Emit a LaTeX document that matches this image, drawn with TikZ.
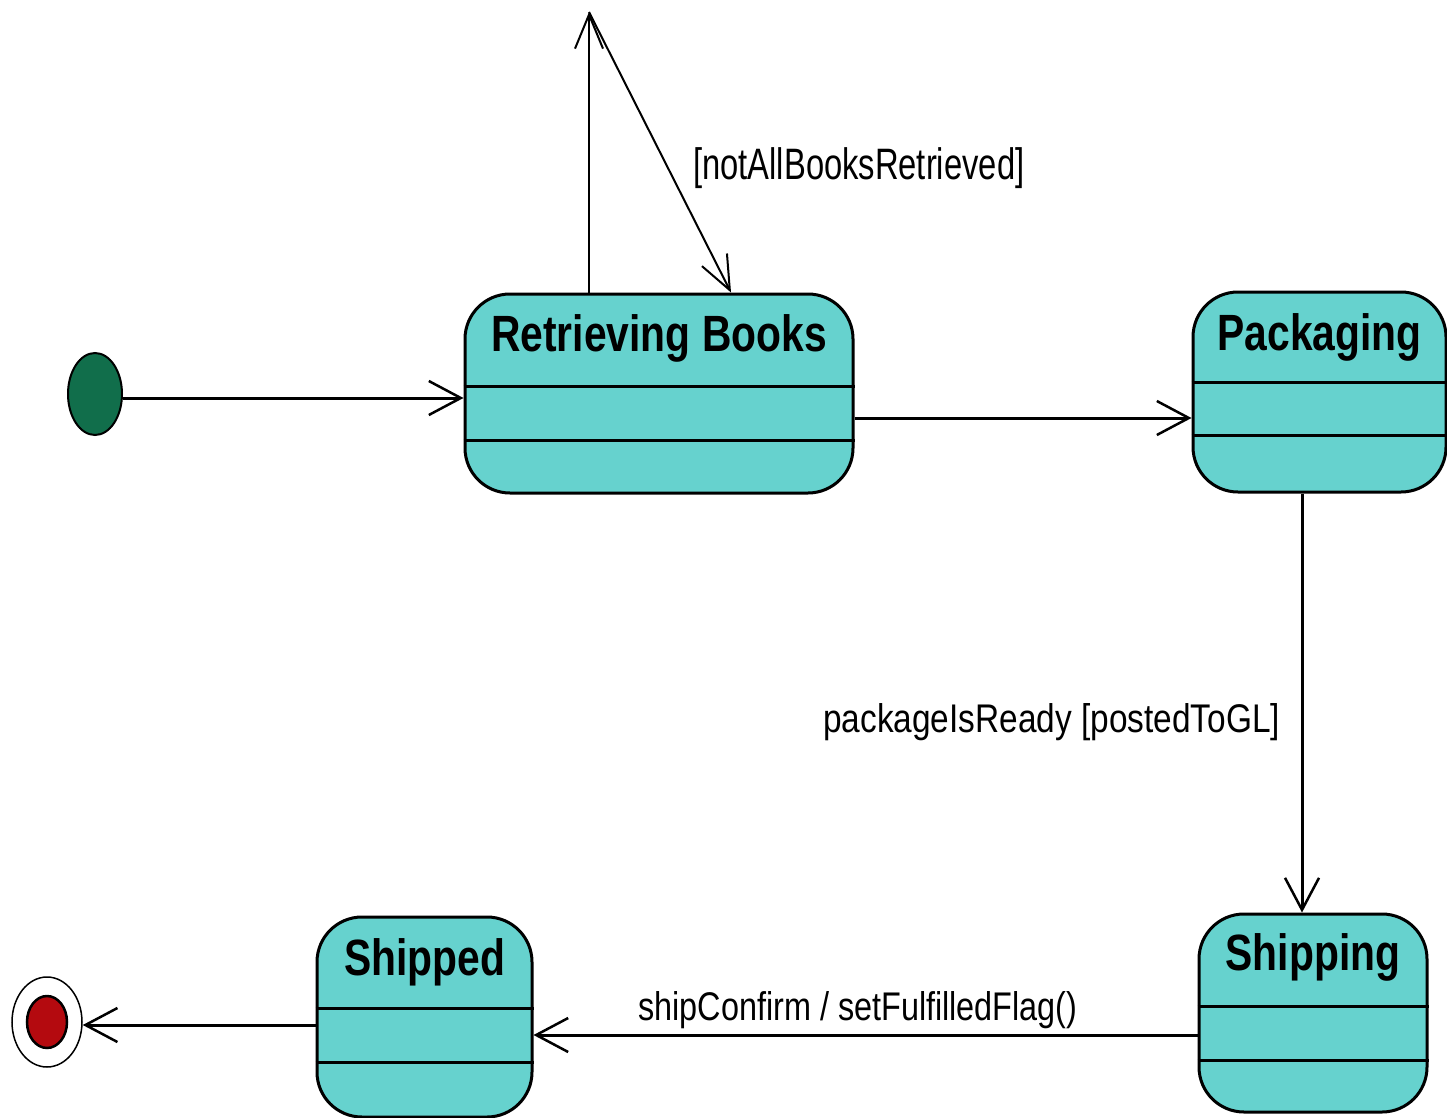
\documentclass[tikz,border=0pt]{standalone}
\usepackage{fontspec}
\setmainfont{Liberation Sans}
\usetikzlibrary{arrows.meta,shapes.geometric,calc}
\definecolor{statefill}{RGB}{102,210,206}
\definecolor{initgreen}{RGB}{17,110,75}
\definecolor{finred}{RGB}{180,10,15}
\begin{document}
\begin{tikzpicture}[x=1pt,y=-1pt,
  statebox/.style={draw,line width=3pt,fill=statefill,rounded corners=45pt,inner sep=0pt},
  divider/.style={line width=3pt},
  title/.style={anchor=base,inner sep=0pt,font=\fontsize{51}{51}\selectfont\bfseries},
  trans/.style={line width=3pt,-{Straight Barb[length=32pt,width=34pt,line width=2.5pt]}},
  loopline/.style={line width=2pt,-{Straight Barb[length=34pt,width=28pt,line width=2pt]}},
  lbl/.style={anchor=base west,inner sep=0pt}]
\fill[white] (0,0) rectangle (1447,1118);
\useasboundingbox (0,0) rectangle (1447,1118);

% states
\node[statebox,minimum width=388pt,minimum height=199pt] (rb) at (659,393.5) {};
\node[statebox,minimum width=253pt,minimum height=200pt] (pk) at (1319.5,392) {};
\node[statebox,minimum width=228pt,minimum height=198pt] (sg) at (1313,1013) {};
\node[statebox,minimum width=215pt,minimum height=200pt] (sd) at (424.5,1017) {};

\foreach \n/\a/\b in {rb/94/148, pk/92/145, sg/94/148, sd/93/147}{
  \draw[divider] ($(\n.north west)+(0,\a)$) -- ($(\n.north east)+(0,\a)$);
  \draw[divider] ($(\n.north west)+(0,\b)$) -- ($(\n.north east)+(0,\b)$);
}

\node[title] (rbt) at ($(rb.north)+(0,59)$) {\scalebox{0.80}[1]{Retrieving Books}};
\node[title] (pkt) at ($(pk.north)+(0,60)$) {\scalebox{0.80}[1]{Packaging}};
\node[title] (sgt) at ($(sg.north)+(0,58)$) {\scalebox{0.80}[1]{Shipping}};
\node[title] (sdt) at ($(sd.north)+(0,60)$) {\scalebox{0.80}[1]{Shipped}};

% initial and final states
\node[ellipse,draw,line width=2pt,fill=initgreen,minimum width=54pt,minimum height=82pt,inner sep=0pt] (init) at (95,394) {};
\node[ellipse,draw,line width=1.5pt,fill=white,minimum width=70pt,minimum height=90pt,inner sep=0pt] (fin) at (47,1022) {};
\node[ellipse,draw,line width=2.5pt,fill=finred,minimum width=40pt,minimum height=52pt,inner sep=0pt] (finin) at (fin.center) {};

% transitions
\coordinate (a0) at ([yshift=-4pt]init.east);
\draw[trans] (a0) -- (a0 -| rb.west);
\coordinate (a1) at ([yshift=-24.5pt]rb.east);
\draw[trans] (a1) -- (a1 -| pk.west);
\coordinate (a2) at ([xshift=-17.5pt]pk.south);
\draw[trans] (a2) -- (a2 |- sg.north);
\coordinate (a3) at ([yshift=-22pt]sg.west);
\draw[trans] (a3) -- (a3 -| sd.east);
\coordinate (a4) at ([yshift=-8pt]sd.west);
\draw[trans] (a4) -- (a4 -| fin.east);

% self loop
\coordinate (l1) at ([xshift=-70pt]rb.north);
\coordinate (ltop) at (589,12);
\coordinate (l2) at ([xshift=72pt]rb.north);
\draw[loopline] (l1) -- (ltop);
\draw[loopline] (ltop) -- (l2);

% labels
\node[lbl,font=\fontsize{44}{44}\selectfont] (lab1) at (693,180) {\scalebox{0.744}[1]{[notAllBooksRetrieved]}};
\node[lbl,font=\fontsize{40}{40}\selectfont] (lab2) at (823,732) {\scalebox{0.835}[1]{packageIsReady [postedToGL]}};
\node[lbl,font=\fontsize{40}{40}\selectfont] (lab3) at (638,1020) {\scalebox{0.81}[1]{shipConfirm / setFulfilledFlag()}};
\end{tikzpicture}
\end{document}
